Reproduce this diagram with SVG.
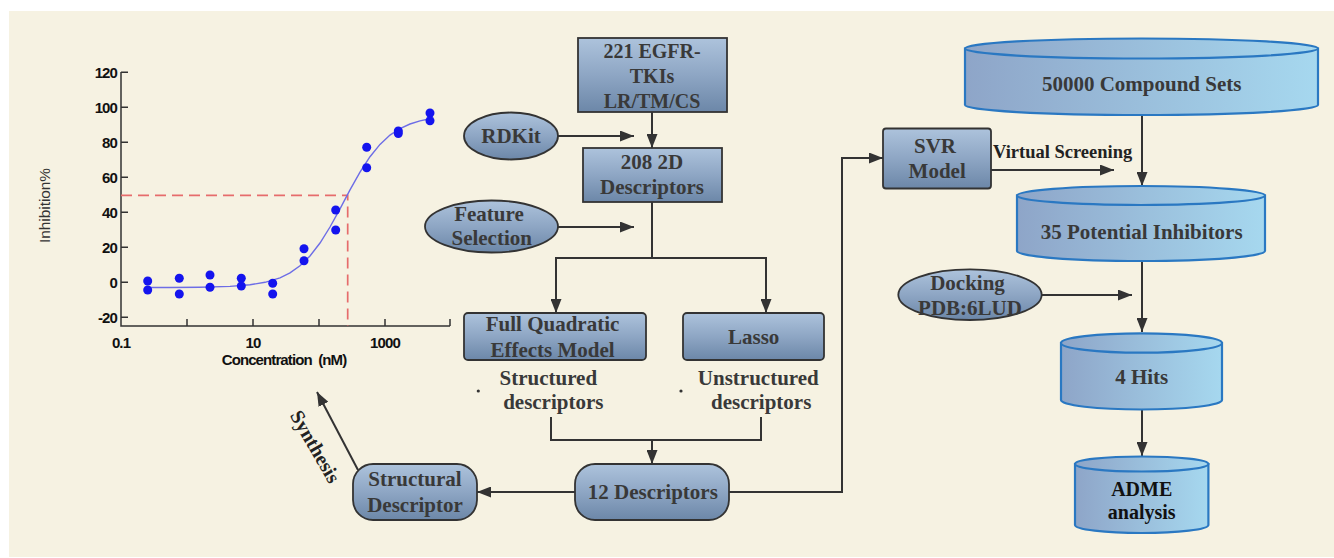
<svg xmlns="http://www.w3.org/2000/svg" width="1334" height="558" viewBox="0 0 1334 558">
  <style>
    .lbl { font-family: "Liberation Serif", "Times New Roman", serif; font-weight: bold; font-size: 21px; fill: #393939; text-anchor: middle; }
    .box { fill: url(#gBox); stroke: #333; stroke-width: 1.8; }
    .cyl { fill: url(#gCyl); stroke: #2a78c2; stroke-width: 2.2; }
    .conn { fill: none; stroke: #333; stroke-width: 2; }
    .arr { marker-end: url(#arrow); }
    .ax { fill: none; stroke: #333; stroke-width: 1.5; }
    .tick { font-family: "Liberation Sans", Arial, sans-serif; font-weight: bold; font-size: 15px; fill: #111; letter-spacing: -0.9px; }
    .dot { fill: #1414ee; }
  </style>
  <defs>
    <linearGradient id="gBox" x1="0" y1="0" x2="0" y2="1">
      <stop offset="0" stop-color="#adc3dc"/>
      <stop offset="0.5" stop-color="#8ea6c4"/>
      <stop offset="1" stop-color="#6c87a8"/>
    </linearGradient>
    <linearGradient id="gCyl" x1="0" y1="0" x2="1" y2="0">
      <stop offset="0" stop-color="#8ea5c8"/>
      <stop offset="1" stop-color="#a6d8ef"/>
    </linearGradient>
    <marker id="arrow" markerUnits="userSpaceOnUse" markerWidth="14" markerHeight="11" refX="14" refY="5.5" orient="auto">
      <path d="M0,0 L14,5.5 L0,11 z" fill="#333"/>
    </marker>
  </defs>

  <!-- page background -->
  <rect x="0" y="0" width="1334" height="558" fill="#ffffff"/>
  <rect x="9" y="11" width="1325" height="546" fill="#f6f2e2"/>

  <!-- dose-response chart -->
  <g id="chart">
    <path class="ax" d="M121,72 V326 H450"/>
    <path class="ax" d="M121,72.3 h7 M121,107.3 h7 M121,142.3 h7 M121,177.3 h7 M121,212.3 h7 M121,247.3 h7 M121,282.3 h7 M121,317.3 h7"/>
    <path class="ax" d="M187,326 v-7 M253,326 v-7 M319,326 v-7 M385,326 v-7 M450,326 v-7"/>
    <g class="tick" text-anchor="end">
      <text x="117" y="77.5">120</text>
      <text x="117" y="112.5">100</text>
      <text x="117" y="147.5">80</text>
      <text x="117" y="182.5">60</text>
      <text x="117" y="217.5">40</text>
      <text x="117" y="252.5">20</text>
      <text x="117" y="287.5">0</text>
      <text x="117" y="322.5">-20</text>
    </g>
    <g class="tick" text-anchor="middle">
      <text x="121" y="347.5">0.1</text>
      <text x="253" y="347.5">10</text>
      <text x="385" y="347.5">1000</text>
      <text x="284" y="364.5" xml:space="preserve">Concentration  (nM)</text>
    </g>
    <text transform="translate(50,205.5) rotate(-90)" font-family="Liberation Sans, Arial, sans-serif" font-size="14" fill="#333" text-anchor="middle" textLength="75" lengthAdjust="spacingAndGlyphs">Inhibition%</text>
    <path d="M121,195.3 H347.7 V326" fill="none" stroke="#e66c6c" stroke-width="1.7" stroke-dasharray="11 6"/>
    <polyline fill="none" stroke="#6d6de6" stroke-width="1.4" points="147,287.5 170,287.5 200,287.2 230,286.4 250,284.8 265,282.3 280,277.8 290,272.9 300,265.8 310,256 320,243 330,227 340,208.8 350,189.9 360,172.1 370,156.7 380,144.4 390,135.1 400,128.5 410,124 420,120.9 430,118.8"/>
    <g class="dot">
      <circle cx="147.7" cy="281" r="4.5"/><circle cx="147.7" cy="290" r="4.5"/>
      <circle cx="179.3" cy="278.3" r="4.5"/><circle cx="179.3" cy="294" r="4.5"/>
      <circle cx="210" cy="275" r="4.5"/><circle cx="210" cy="287.3" r="4.5"/>
      <circle cx="241.3" cy="278.3" r="4.5"/><circle cx="241.3" cy="286" r="4.5"/>
      <circle cx="272.7" cy="283.3" r="4.5"/><circle cx="272.7" cy="294" r="4.5"/>
      <circle cx="304" cy="248.7" r="4.5"/><circle cx="304" cy="260.7" r="4.5"/>
      <circle cx="335.7" cy="210" r="4.5"/><circle cx="335.7" cy="230" r="4.5"/>
      <circle cx="366.7" cy="147.3" r="4.5"/><circle cx="366.7" cy="167.7" r="4.5"/>
      <circle cx="398.3" cy="131" r="4.5"/><circle cx="398.3" cy="133.5" r="4.5"/>
      <circle cx="430" cy="113" r="4.5"/><circle cx="430" cy="120.7" r="4.5"/>
    </g>
  </g>

  <!-- connectors -->
  <g id="connectors">
    <line class="conn arr" x1="652" y1="112" x2="652" y2="148"/>
    <line class="conn arr" x1="558" y1="136" x2="634" y2="136"/>
    <line class="conn arr" x1="558" y1="227" x2="634" y2="227"/>
    <path class="conn" d="M652,202 V258 M555,258 H767"/>
    <line class="conn arr" x1="556" y1="258" x2="556" y2="313"/>
    <line class="conn arr" x1="766" y1="258" x2="766" y2="313"/>
    <path class="conn" d="M551,417 V440 H761 V417"/>
    <line class="conn arr" x1="652" y1="440" x2="652" y2="464"/>
    <line class="conn arr" x1="575" y1="492" x2="477" y2="492"/>
    <path class="conn arr" d="M729,492 H842 V158 H883"/>
    <line class="conn arr" x1="991" y1="170" x2="1114" y2="170"/>
    <line class="conn arr" x1="1142" y1="115" x2="1142" y2="186"/>
    <line class="conn arr" x1="1142" y1="262" x2="1142" y2="332"/>
    <line class="conn arr" x1="1042" y1="295" x2="1132" y2="295"/>
    <line class="conn arr" x1="1142" y1="410" x2="1142" y2="456"/>
    <line class="conn arr" x1="358" y1="470" x2="317" y2="392"/>
    <text class="lbl" x="993" y="158" style="text-anchor:start;font-size:18.5px;fill:#222">Virtual Screening</text>
    <text class="lbl" transform="translate(309.5,450) rotate(60)" style="font-size:20px;fill:#222">Synthesis</text>
  </g>

  <g id="n-egfr">
    <rect class="box" x="578" y="38" width="149" height="74"/>
    <text class="lbl" x="652" y="57.5" style="font-size:20px">221 EGFR-</text>
    <text class="lbl" x="652" y="82.5" style="font-size:20px">TKIs</text>
    <text class="lbl" x="652" y="107.5" style="font-size:20px">LR/TM/CS</text>
  </g>

  <g id="n-rdkit">
    <ellipse class="box" cx="511" cy="136" rx="47" ry="23.5"/>
    <text class="lbl" x="511" y="143.3">RDKit</text>
  </g>

  <g id="n-desc208">
    <rect class="box" x="583" y="148" width="139" height="54"/>
    <text class="lbl" x="652" y="168.5">208 2D</text>
    <text class="lbl" x="652" y="194">Descriptors</text>
  </g>

  <g id="n-feature">
    <ellipse class="box" cx="491.5" cy="226.5" rx="66.5" ry="26"/>
    <text class="lbl" x="489" y="220.7">Feature</text>
    <text class="lbl" x="491.7" y="245">Selection</text>
  </g>

  <g id="n-fqem">
    <rect class="box" x="464" y="313" width="182" height="47" rx="4"/>
    <text class="lbl" x="552.5" y="330.5">Full Quadratic</text>
    <text class="lbl" x="552.5" y="356.5">Effects Model</text>
  </g>

  <g id="n-lasso">
    <rect class="box" x="683" y="313" width="141" height="47" rx="4"/>
    <text class="lbl" x="753.7" y="344">Lasso</text>
  </g>

  <g id="n-structured">
    <circle cx="478.3" cy="391" r="1.6" fill="#333"/>
    <text class="lbl" x="548.3" y="385">Structured</text>
    <text class="lbl" x="553.3" y="409">descriptors</text>
  </g>

  <g id="n-unstructured">
    <circle cx="681" cy="391" r="1.6" fill="#333"/>
    <text class="lbl" x="758.3" y="385">Unstructured</text>
    <text class="lbl" x="761.2" y="409">descriptors</text>
  </g>

  <g id="n-desc12">
    <rect class="box" x="575" y="464" width="154" height="56" rx="20"/>
    <text class="lbl" x="652.8" y="499.3">12 Descriptors</text>
  </g>

  <g id="n-structural">
    <rect class="box" x="353" y="464" width="124" height="56" rx="20"/>
    <text class="lbl" x="415" y="486">Structural</text>
    <text class="lbl" x="415" y="511.5">Descriptor</text>
  </g>

  <g id="n-svr">
    <rect class="box" x="883" y="128.5" width="108" height="60" rx="3"/>
    <text class="lbl" x="935" y="152.7">SVR</text>
    <text class="lbl" x="937.2" y="177.7">Model</text>
  </g>

  <g id="n-compounds">
    <path class="cyl" d="M965,48.5 V105 A176.5,10 0 0 0 1318,105 V48.5 Z"/>
    <ellipse class="cyl" cx="1141.5" cy="48.5" rx="176.5" ry="10"/>
    <text class="lbl" x="1141.7" y="90.5">50000 Compound Sets</text>
  </g>

  <g id="n-potential">
    <path class="cyl" d="M1017,195.5 V251 A124,10 0 0 0 1265,251 V195.5 Z"/>
    <ellipse class="cyl" cx="1141" cy="195.5" rx="124" ry="9.5"/>
    <text class="lbl" x="1141.7" y="238.5">35 Potential Inhibitors</text>
  </g>

  <g id="n-docking">
    <ellipse class="box" cx="970" cy="294.7" rx="71.7" ry="25.3"/>
    <text class="lbl" x="967.5" y="290">Docking</text>
    <text class="lbl" x="970" y="315">PDB:6LUD</text>
  </g>

  <g id="n-hits">
    <path class="cyl" d="M1061,343 V400 A80.5,9.5 0 0 0 1222,400 V343 Z"/>
    <ellipse class="cyl" cx="1141.5" cy="343" rx="80.5" ry="9.7"/>
    <text class="lbl" x="1141.7" y="384">4 Hits</text>
  </g>

  <g id="n-adme">
    <path class="cyl" d="M1075,464 V525 A66.7,8 0 0 0 1208.4,525 V464 Z"/>
    <ellipse class="cyl" cx="1141.7" cy="464" rx="66.7" ry="7.5"/>
    <text class="lbl" x="1141.7" y="495.5" style="fill:#111;font-size:20px">ADME</text>
    <text class="lbl" x="1141.7" y="519" style="fill:#111;font-size:20px">analysis</text>
  </g>
</svg>
